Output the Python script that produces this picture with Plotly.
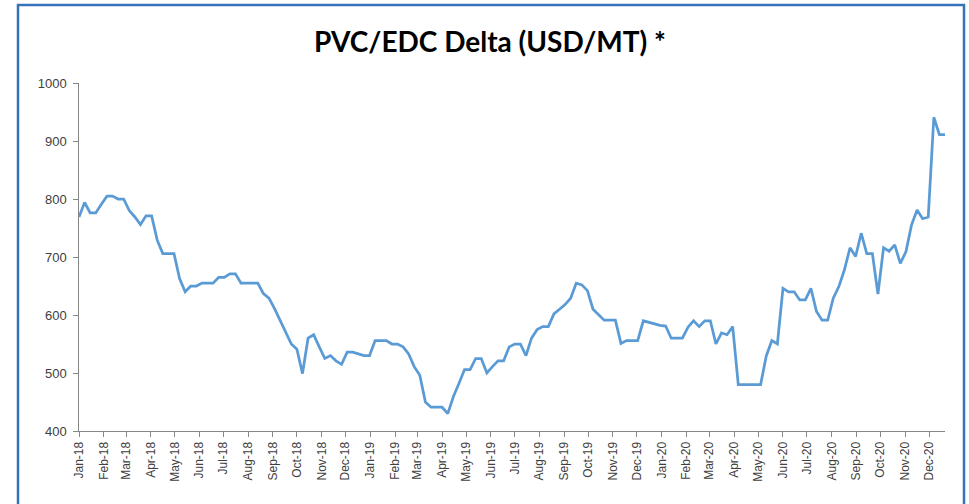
import pandas as pd
import plotly.graph_objects as go

start_date = "2018-01-01"
n_weeks = 156
dates = pd.date_range(start=start_date, periods=n_weeks, freq="7D")

delta_usd_mt = [
    769, 794, 776, 776, 791, 805, 805, 800, 800, 780,
    769, 756, 771, 771, 729, 706, 706, 706, 663, 640,
    650, 650, 655, 655, 655, 665, 665, 671, 671, 655,
    655, 655, 655, 637, 629, 611, 591, 570, 550, 541,
    499, 560, 566, 545, 525, 530, 521, 515, 536, 536,
    533, 530, 530, 556, 556, 556, 550, 550, 545, 533,
    511, 496, 450, 441, 441, 441, 430, 459, 482, 506,
    506, 525, 525, 500, 511, 521, 521, 545, 550, 550,
    530, 560, 575, 580, 580, 602, 610, 618, 629, 655,
    652, 642, 610, 601, 591, 591, 591, 551, 556, 556,
    556, 590, 587, 584, 582, 581, 560, 560, 560, 579,
    590, 580, 590, 590, 550, 569, 566, 580, 480, 480,
    480, 480, 480, 529, 556, 550, 646, 640, 640, 626,
    626, 646, 606, 591, 591, 629, 649, 678, 716, 701,
    741, 706, 706, 636, 716, 710, 721, 689, 709, 755,
    781, 766, 769, 941, 911, 911,
]

y_ticks = [400, 500, 600, 700, 800, 900, 1000]
title_text = "PVC/EDC Delta (USD/MT) *"

fig = go.Figure()
fig.add_trace(go.Scatter(
    x=dates, y=delta_usd_mt, mode="lines",
    line=dict(color="#5B9BD5", width=2.75),
    hoverinfo="x+y", showlegend=False,
))

axis_col = "#868686"
fig.update_layout(
    width=969, height=504,
    margin=dict(l=79, r=24, t=83, b=73),
    paper_bgcolor="white", plot_bgcolor="white",
    title=dict(
        text=f"<b>{title_text}</b>",
        x=490 / 969, xanchor="center", xref="container",
        y=1 - 42 / 504, yanchor="middle", yref="container",
        font=dict(family="Lato, sans-serif", size=28, color="#000000"),
    ),
    xaxis=dict(
        type="date",
        range=[dates[0], dates[-1]],
        tick0=start_date, dtick="M1", tickformat="%b-%y",
        tickangle=-90,
        ticks="outside", ticklen=5, tickcolor=axis_col,
        showline=True, linecolor=axis_col, linewidth=1,
        showgrid=False, zeroline=False,
        tickfont=dict(family="Liberation Sans, Arial, sans-serif", size=12, color="#404040"),
    ),
    yaxis=dict(
        range=[400, 1000],
        tickvals=y_ticks, ticktext=[f"{v}\u00a0" for v in y_ticks],
        ticks="outside", ticklen=5, tickcolor=axis_col,
        showline=True, linecolor=axis_col, linewidth=1,
        showgrid=False, zeroline=False,
        tickfont=dict(family="Liberation Sans, Arial, sans-serif", size=13, color="#404040"),
    ),
    shapes=[dict(
        type="rect", xref="paper", yref="paper",
        x0=(18 - 79) / 866, x1=(964 - 79) / 866,
        y0=(431 - 520) / 348, y1=(431 - 5) / 348,
        line=dict(color="#3572B8", width=2.5), fillcolor="rgba(0,0,0,0)",
        layer="below",
    )],
)

fig.write_html(
    "out.html",
    config={"displayModeBar": False},
    post_script="document.body.style.margin='0';document.body.style.padding='0';",
)
